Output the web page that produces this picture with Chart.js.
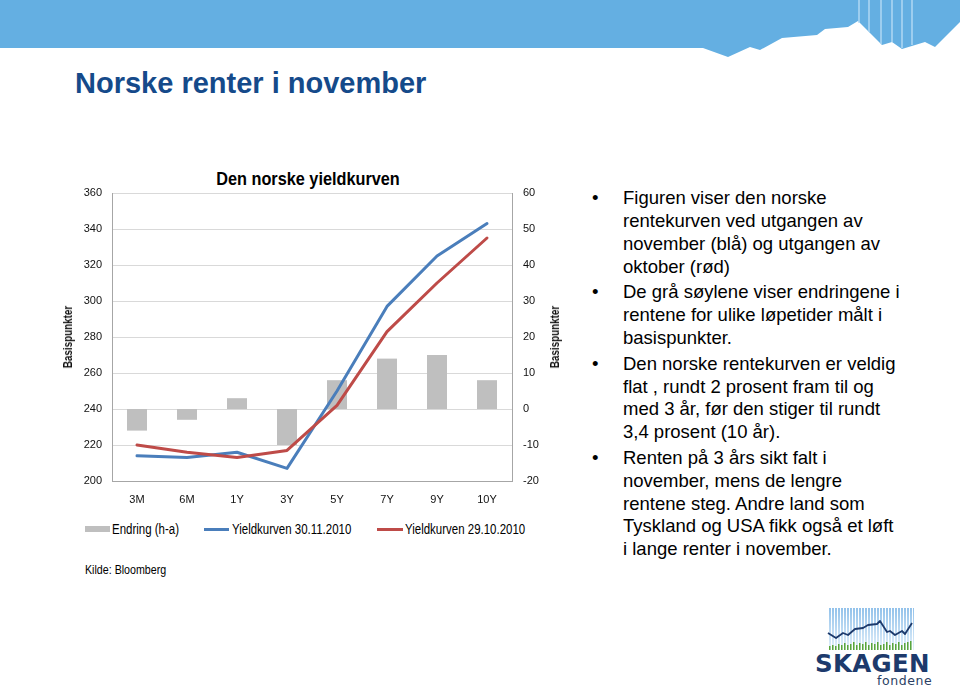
<!DOCTYPE html>
<html>
<head>
<meta charset="utf-8">
<script src="https://cdn.jsdelivr.net/npm/chart.js@4.4.1/dist/chart.umd.min.js"></script>
<style>
  html, body { margin:0; padding:0; background:#fff; }
  #page { position:relative; width:960px; height:692px; overflow:hidden; background:#fff; font-family:'Liberation Sans', Arial, sans-serif; }
  .abs { position:absolute; white-space:nowrap; }
  #title { left:75px; top:68.5px; font-size:29px; line-height:29px; font-weight:bold; color:#154a8a; }
  #ctitle { left:108px; width:400px; text-align:center; top:169px; font-weight:bold; font-size:17.5px; line-height:20px; color:#000; transform:scaleX(0.93); transform-origin:center; }
  .lg { font-size:14px; line-height:16px; color:#000; top:521px; transform:scaleX(0.82); transform-origin:left center; }
  #kilde { left:85px; top:562px; font-size:13px; line-height:16px; color:#000; transform:scaleX(0.82); transform-origin:left center; }
  .axt { font-size:12px; line-height:14px; font-weight:bold; color:#111; transform:translate(-50%,-50%) rotate(-90deg) scaleX(0.82); }
  #bullets { position:absolute; left:623px; top:187.2px; font-size:18.5px; line-height:22.8px; color:#000; }
  #bullets .b { position:relative; margin-bottom:3px; white-space:nowrap; }
  #bullets .b::before { content:'\2022'; position:absolute; left:-31px; top:0; }
  #skagen { left:815px; top:651px; font-family:'DejaVu Sans',sans-serif; font-weight:bold; font-size:24.5px; line-height:26px; color:#1d3a6c; letter-spacing:0.3px; }
  #fondene { left:877px; top:674px; font-family:'DejaVu Sans',sans-serif; font-size:12.5px; line-height:14px; color:#2b3f64; letter-spacing:0.6px; }
</style>
</head>
<body>
<div id="page">
  <svg class="abs" style="left:0;top:0" width="960" height="70">
    <polygon fill="#64afe2" points="0,0 960,0 960,22 935,47 925,42 902,49 892,42 882,45 858,21 848,27 825,29 817,35 782,38 760,50 750,47 728,57 703,48 0,48"/>
    <g stroke="#b5dbf5" stroke-width="1.4">
      <line x1="859" y1="0" x2="859" y2="23"/>
      <line x1="869" y1="0" x2="869" y2="32"/>
      <line x1="881" y1="0" x2="881" y2="44"/>
      <line x1="892" y1="0" x2="892" y2="42"/>
      <line x1="902" y1="0" x2="902" y2="48"/>
      <line x1="912" y1="0" x2="912" y2="45"/>
    </g>
  </svg>
  <div id="title" class="abs">Norske renter i november</div>
  <div id="ctitle" class="abs">Den norske yieldkurven</div>
  <canvas id="c" width="520" height="350" style="position:absolute;left:55px;top:160px;"></canvas>
  <div id="axl" class="abs axt" style="left:68px;top:337px;"></div>
  <div id="axr" class="abs axt" style="left:555px;top:337px;"></div>
  <div id="legend"></div>
  <div id="kilde" class="abs">Kilde: Bloomberg</div>
  <div id="bullets">
    <div class="b">Figuren viser den norske<br>rentekurven ved utgangen av<br>november (blå) og utgangen av<br>oktober (rød)</div>
    <div class="b">De grå søylene viser endringene i<br>rentene for ulike løpetider målt i<br>basispunkter.</div>
    <div class="b">Den norske rentekurven er veldig<br>flat , rundt 2 prosent fram til og<br>med 3 år, før den stiger til rundt<br>3,4 prosent (10 år).</div>
    <div class="b">Renten på 3 års sikt falt i<br>november, mens de lengre<br>rentene steg. Andre land som<br>Tyskland og USA fikk også et løft<br>i lange renter i november.</div>
  </div>
  <svg class="abs" style="left:826px;top:606px" width="90" height="46">
    <defs>
      <linearGradient id="fade" x1="0" y1="0" x2="0" y2="1">
        <stop offset="0" stop-color="#8fc0ea"/>
        <stop offset="1" stop-color="#e6f2fb"/>
      </linearGradient>
      <pattern id="stripes" width="3" height="46" patternUnits="userSpaceOnUse">
        <rect x="0" y="0" width="2" height="46" fill="url(#fade)"/>
      </pattern>
    </defs>
    <rect x="2" y="2" width="86" height="42" fill="url(#stripes)"/>
    <g fill="#5aa63a">
      <rect x="3" y="40" width="1.5" height="4"/><rect x="6" y="39" width="1.5" height="5"/><rect x="9" y="40" width="1.5" height="4"/>
      <rect x="12" y="38" width="1.5" height="6"/><rect x="15" y="39" width="1.5" height="5"/><rect x="18" y="37" width="1.5" height="7"/>
      <rect x="21" y="39" width="1.5" height="5"/><rect x="24" y="38" width="1.5" height="6"/><rect x="27" y="36" width="1.5" height="8"/>
      <rect x="30" y="39" width="1.5" height="5"/><rect x="33" y="37" width="1.5" height="7"/><rect x="36" y="38" width="1.5" height="6"/>
      <rect x="39" y="36" width="1.5" height="8"/><rect x="42" y="39" width="1.5" height="5"/><rect x="45" y="37" width="1.5" height="7"/>
      <rect x="48" y="38" width="1.5" height="6"/><rect x="51" y="36" width="1.5" height="8"/><rect x="54" y="39" width="1.5" height="5"/>
      <rect x="57" y="38" width="1.5" height="6"/><rect x="60" y="36" width="1.5" height="8"/><rect x="63" y="39" width="1.5" height="5"/>
      <rect x="66" y="37" width="1.5" height="7"/><rect x="69" y="38" width="1.5" height="6"/><rect x="72" y="36" width="1.5" height="8"/>
      <rect x="75" y="39" width="1.5" height="5"/><rect x="78" y="37" width="1.5" height="7"/><rect x="81" y="36" width="1.5" height="8"/><rect x="84" y="35" width="1.5" height="9"/>
    </g>
    <polyline fill="none" stroke="#1d3a6c" stroke-width="1.8" stroke-linejoin="round" points="2,27 10,32 17,27 22,29 29,23 37,22 42,19 51,18 54,15 61,26 64,25 69,29 76,25 79,28 86,17"/>
  </svg>
  <div id="skagen" class="abs">SKAGEN</div>
  <div id="fondene" class="abs">fondene</div>
</div>
<script>
// ---- data ----
const categories = ['3M', '6M', '1Y', '3Y', '5Y', '7Y', '9Y', '10Y'];
const endring = [-6, -3, 3, -10, 8, 14, 15, 8];            // basis points, right axis
const yield30Nov = [214, 213, 216, 207, 250, 297, 325, 343]; // left axis
const yield29Oct = [220, 216, 213, 217, 242, 283, 310, 335]; // left axis
const seriesNames = ['Endring (h-a)', 'Yieldkurven 30.11.2010', 'Yieldkurven 29.10.2010'];
const axisTitle = 'Basispunkter';
const leftTicks = { min: 200, max: 360, step: 20 };
const rightTicks = { min: -20, max: 60, step: 10 };

const FONT = "'Liberation Sans', Arial, sans-serif";
const colors = ['#bfbfbf', '#4a7ebb', '#be4b48'];

document.getElementById('axl').textContent = axisTitle;
document.getElementById('axr').textContent = axisTitle;

// ---- HTML legend built from series names ----
(function () {
  const lg = document.getElementById('legend');
  const items = [
    { mark: { left: 85, top: 526, w: 25, h: 6 }, text: 112 },
    { mark: { left: 204, top: 527.5, w: 25, h: 3 }, text: 232 },
    { mark: { left: 377, top: 527.5, w: 26, h: 3 }, text: 405 }
  ];
  items.forEach((it, i) => {
    const m = document.createElement('div');
    m.className = 'abs';
    m.style.cssText = `left:${it.mark.left}px;top:${it.mark.top}px;width:${it.mark.w}px;height:${it.mark.h}px;background:${colors[i]};`;
    lg.appendChild(m);
    const t = document.createElement('div');
    t.className = 'abs lg';
    t.style.left = it.text + 'px';
    t.textContent = seriesNames[i];
    lg.appendChild(t);
  });
})();

const tickFont = { family: FONT, size: 11 };

new Chart(document.getElementById('c').getContext('2d'), {
  data: {
    labels: categories,
    datasets: [
      { type: 'bar', label: seriesNames[0], data: endring, yAxisID: 'y1',
        backgroundColor: colors[0], borderWidth: 0, barPercentage: 0.4, categoryPercentage: 1.0, order: 3 },
      { type: 'line', label: seriesNames[1], data: yield30Nov, yAxisID: 'y',
        borderColor: colors[1], borderWidth: 3, pointRadius: 0, tension: 0,
        borderJoinStyle: 'round', borderCapStyle: 'round', fill: false, order: 2 },
      { type: 'line', label: seriesNames[2], data: yield29Oct, yAxisID: 'y',
        borderColor: colors[2], borderWidth: 3, pointRadius: 0, tension: 0,
        borderJoinStyle: 'round', borderCapStyle: 'round', fill: false, order: 1 }
    ]
  },
  options: {
    responsive: false,
    animation: false,
    layout: { padding: { top: 33, left: 0, right: 0, bottom: 0 } },
    plugins: { legend: { display: false }, tooltip: { enabled: false }, title: { display: false } },
    scales: {
      x: {
        grid: { display: false, drawTicks: false },
        border: { display: true, color: '#a6a6a6', width: 1 },
        ticks: { font: tickFont, color: '#111', padding: 12, maxRotation: 0 },
        afterFit(s) { s.height = 29; }
      },
      y: {
        position: 'left', min: leftTicks.min, max: leftTicks.max,
        ticks: { stepSize: leftTicks.step, font: tickFont, color: '#111', padding: 10 },
        grid: { color: '#d9d9d9', lineWidth: 1, drawTicks: false },
        border: { display: true, color: '#a6a6a6', width: 1 },
        title: { display: false },
        afterFit(s) { s.width = 57; }
      },
      y1: {
        position: 'right', min: rightTicks.min, max: rightTicks.max,
        ticks: { stepSize: rightTicks.step, font: tickFont, color: '#111', padding: 11 },
        grid: { display: false, drawTicks: false },
        border: { display: true, color: '#a6a6a6', width: 1 },
        title: { display: false },
        afterFit(s) { s.width = 63; }
      }
    }
  }
});
</script>
</body>
</html>
